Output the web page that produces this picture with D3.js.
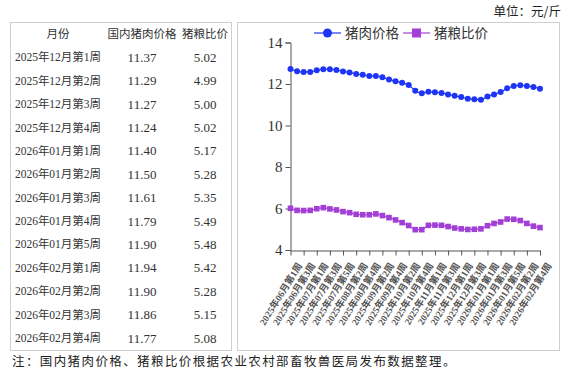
<!DOCTYPE html>
<html>
<head>
<meta charset="utf-8">
<script src="https://cdn.jsdelivr.net/npm/d3@7"></script>
<style>
  body { margin: 0; background: #fff; }
  svg { display: block; }
</style>
</head>
<body>
<div id="chart"></div>
<script>
// week categories, 2025-06 wk1 .. 2026-02 wk4
const weekLabels = [
  "2025年06月第1周", "2025年06月第2周", "2025年06月第3周", "2025年06月第4周",
  "2025年07月第1周", "2025年07月第2周", "2025年07月第3周", "2025年07月第4周", "2025年07月第5周",
  "2025年08月第1周", "2025年08月第2周", "2025年08月第3周", "2025年08月第4周",
  "2025年09月第1周", "2025年09月第2周", "2025年09月第3周", "2025年09月第4周",
  "2025年10月第1周", "2025年10月第2周", "2025年10月第3周", "2025年10月第4周", "2025年10月第5周",
  "2025年11月第1周", "2025年11月第2周", "2025年11月第3周", "2025年11月第4周",
  "2025年12月第1周", "2025年12月第2周", "2025年12月第3周", "2025年12月第4周",
  "2026年01月第1周", "2026年01月第2周", "2026年01月第3周", "2026年01月第4周", "2026年01月第5周",
  "2026年02月第1周", "2026年02月第2周", "2026年02月第3周", "2026年02月第4周"
];

const porkPrice = [
  12.72, 12.61, 12.58, 12.58, 12.66, 12.71, 12.71, 12.68, 12.60,
  12.56, 12.48, 12.45, 12.39, 12.39, 12.32, 12.22, 12.13, 12.06,
  11.95, 11.68, 11.55, 11.63, 11.60, 11.57, 11.50, 11.43,
  11.37, 11.29, 11.27, 11.24, 11.40, 11.50, 11.61, 11.79, 11.90,
  11.94, 11.90, 11.86, 11.77
];

const grainRatio = [
  6.01, 5.91, 5.90, 5.91, 5.99, 6.04, 5.98, 5.93, 5.85,
  5.80, 5.72, 5.70, 5.70, 5.74, 5.66, 5.56, 5.45, 5.32,
  5.18, 4.98, 4.98, 5.19, 5.20, 5.19, 5.13, 5.06,
  5.02, 4.99, 5.00, 5.02, 5.17, 5.28, 5.35, 5.49, 5.48,
  5.42, 5.28, 5.15, 5.08
];

const tableHeader = ["月份", "国内猪肉价格", "猪粮比价"];
const tableRowCount = 13; // last 13 weeks shown in the table
const yTicks = [4, 6, 8, 10, 12, 14];
const seriesNames = ["猪肉价格", "猪粮比价"];

const W = 574, H = 377;
const BLUE = "#1f35f5", PURPLE = "#a23fd6";
const cjk = "'Liberation Serif', 'Noto Sans CJK SC', serif";

const svg = d3.select("#chart").append("svg")
  .attr("width", W).attr("height", H);

// unit label
svg.append("text")
  .attr("x", 561).attr("y", 16)
  .attr("text-anchor", "end")
  .attr("font-family", "'Noto Sans CJK SC', sans-serif")
  .attr("font-size", 12.5)
  .attr("fill", "#222")
  .text("单位：元/斤");

// two framed boxes
svg.append("rect").attr("x", 10.5).attr("y", 22.5).attr("width", 221).attr("height", 328)
  .attr("fill", "none").attr("stroke", "#cfcfcf");
svg.append("rect").attr("x", 237.5).attr("y", 22.5).attr("width", 322).attr("height", 328)
  .attr("fill", "none").attr("stroke", "#cfcfcf");

// ---- table ----
const rows = weekLabels.slice(-tableRowCount).map((w, i) => {
  const k = weekLabels.length - tableRowCount + i;
  return [w, porkPrice[k].toFixed(2), grainRatio[k].toFixed(2)];
});
const colX = [58, 142, 205];
const rowY = d3.scaleLinear().domain([0, tableRowCount]).range([34, 338]);

const tbl = svg.append("g").attr("font-family", cjk).attr("fill", "#333");
tbl.selectAll("text.hdr").data(tableHeader).join("text")
  .attr("class", "hdr")
  .attr("x", (d, i) => colX[i]).attr("y", rowY(0))
  .attr("dy", "0.35em").attr("text-anchor", "middle")
  .attr("font-family", "'Noto Sans CJK SC', sans-serif")
  .attr("font-size", 11.5)
  .text(d => d);

rows.forEach((r, ri) => {
  tbl.selectAll(null).data(r).join("text")
    .attr("x", (d, i) => colX[i]).attr("y", rowY(ri + 1))
    .attr("dy", "0.35em").attr("text-anchor", "middle")
    .attr("font-size", (d, i) => i === 0 ? 11.5 : 13)
    .text(d => d);
});

// ---- line chart ----
const x = d3.scalePoint().domain(weekLabels).range([290.5, 540]);
const y = d3.scaleLinear().domain([4, 14]).range([250, 42.5]);

const g = svg.append("g");

const yAxis = g.append("g")
  .attr("transform", "translate(290.5,0)")
  .call(d3.axisLeft(y).tickValues(yTicks).tickSize(5).tickPadding(3));
yAxis.select(".domain").attr("stroke", "#555");
yAxis.selectAll(".tick line").attr("stroke", "#555");
yAxis.selectAll("text")
  .attr("font-family", "'Liberation Serif', serif")
  .attr("font-size", 15).attr("fill", "#333");

const xAxis = g.append("g")
  .attr("transform", "translate(0,250.5)")
  .call(d3.axisBottom(x)
    .tickValues(weekLabels.filter((d, i) => i % 2 === 0))
    .tickSize(5).tickSizeOuter(0));
xAxis.select(".domain").attr("stroke", "#555");
xAxis.selectAll(".tick line").attr("stroke", "#555");
xAxis.selectAll("text")
  .attr("font-family", cjk)
  .attr("font-size", 9.5)
  .attr("font-weight", "bold")
  .attr("fill", "#555")
  .attr("text-anchor", "end")
  .attr("dy", "0.35em")
  .attr("transform", "translate(2,9) rotate(-58)");

const line = d3.line().x((d, i) => x(weekLabels[i])).y(d => y(d)).curve(d3.curveMonotoneX);

g.append("path").datum(porkPrice)
  .attr("fill", "none").attr("stroke", BLUE).attr("stroke-width", 1.2)
  .attr("d", line);
g.selectAll("circle.pork").data(porkPrice).join("circle")
  .attr("class", "pork")
  .attr("cx", (d, i) => x(weekLabels[i])).attr("cy", d => y(d))
  .attr("r", 3).attr("fill", BLUE);

g.append("path").datum(grainRatio)
  .attr("fill", "none").attr("stroke", PURPLE).attr("stroke-width", 1.2)
  .attr("d", line);
g.selectAll("rect.ratio").data(grainRatio).join("rect")
  .attr("class", "ratio")
  .attr("x", (d, i) => x(weekLabels[i]) - 2.8).attr("y", d => y(d) - 2.8)
  .attr("width", 5.6).attr("height", 5.6).attr("fill", PURPLE);

// legend
const leg = svg.append("g").attr("font-family", "'Noto Sans CJK SC', sans-serif").attr("font-size", 13.5).attr("fill", "#333");
const legItems = [
  { name: seriesNames[0], color: BLUE, x0: 314, shape: "circle" },
  { name: seriesNames[1], color: PURPLE, x0: 403, shape: "square" }
];
legItems.forEach(it => {
  leg.append("line").attr("x1", it.x0).attr("x2", it.x0 + 27).attr("y1", 33).attr("y2", 33)
    .attr("stroke", it.color).attr("stroke-width", 1.2);
  if (it.shape === "circle") {
    leg.append("circle").attr("cx", it.x0 + 13.5).attr("cy", 33).attr("r", 4.5).attr("fill", it.color);
  } else {
    leg.append("rect").attr("x", it.x0 + 9).attr("y", 28.5).attr("width", 9).attr("height", 9).attr("fill", it.color);
  }
  leg.append("text").attr("x", it.x0 + 31).attr("y", 33).attr("dy", "0.35em").text(it.name);
});

// footnote
svg.append("text")
  .attr("x", 12).attr("y", 366)
  .attr("font-family", "'Noto Sans CJK SC', sans-serif")
  .attr("font-size", 12.5)
  .attr("letter-spacing", 1.4)
  .attr("fill", "#222")
  .text("注：国内猪肉价格、猪粮比价根据农业农村部畜牧兽医局发布数据整理。");
</script>
</body>
</html>
